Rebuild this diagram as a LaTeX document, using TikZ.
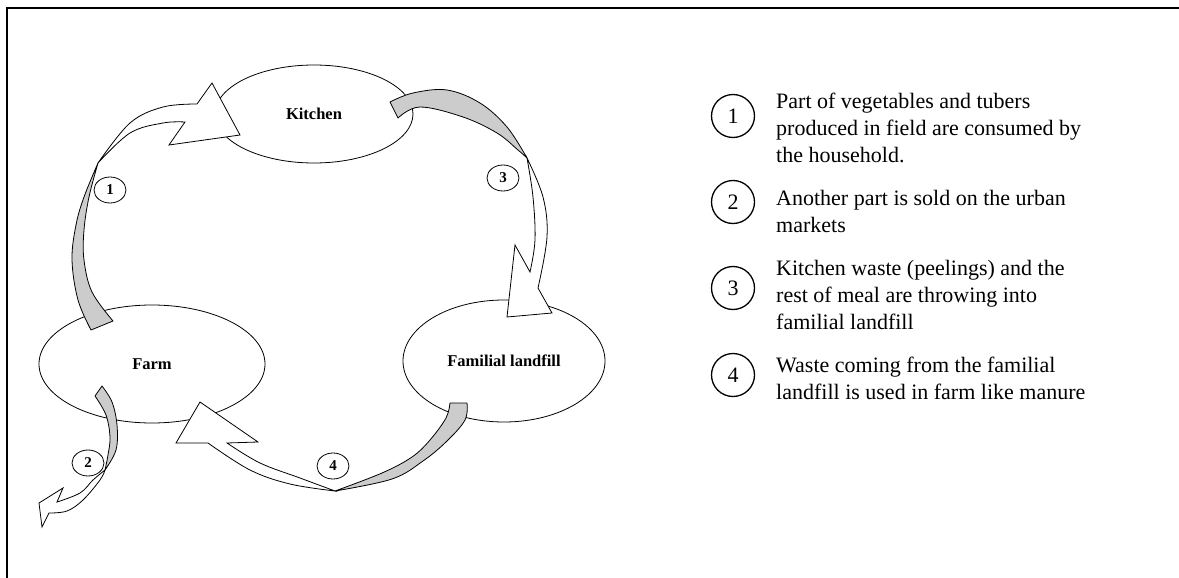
\documentclass[tikz,border=0pt]{standalone}
\usepackage{fontspec}
\setmainfont{Liberation Serif}
\usetikzlibrary{shapes.geometric}
\begin{document}
\begin{tikzpicture}[x=1pt,y=-1pt,
  bigell/.style={draw,ellipse,line width=0.8pt,inner sep=0pt,font=\fontsize{16.5}{18}\selectfont\bfseries},
  numell/.style={draw,ellipse,line width=0.8pt,minimum width=32pt,minimum height=26pt,inner sep=0pt,font=\fontsize{15}{16}\selectfont\bfseries},
  legcirc/.style={draw,circle,line width=1.3pt,minimum size=43pt,inner sep=0pt,font=\fontsize{22}{24}\selectfont},
  legtext/.style={anchor=base west,inner sep=0pt},
  backside/.style={draw,fill=black!20,line width=0.8pt,line join=round},
  frontside/.style={draw,fill=white,line width=0.8pt,line join=miter}]
\useasboundingbox (0,0) rectangle (1179,578);
\draw[line width=2pt] (7,578) -- (7,8) -- (1179,8);

% main ellipses
\node[bigell,minimum width=198pt,minimum height=98pt] (kitchen) at (314,114) {Kitchen};
\node[bigell,minimum width=226pt,minimum height=118pt] (farm) at (152,364) {Farm};
\node[bigell,minimum width=202pt,minimum height=122pt] (landfill) at (504,361) {Familial landfill};

% small numbered ellipses
\node[numell] (n1) at (110,190) {1};
\node[numell] (n2) at (88,463) {2};
\node[numell] (n3) at (503,178) {3};
\node[numell] (n4) at (333,466) {4};

% arrow 1 : farm -> kitchen
\draw[backside] plot[smooth,tension=0.6] coordinates {(91,330) (78,300) (72,260) (76,225) (84,197) (98,163)}
  -- plot[smooth,tension=0.6] coordinates {(98,163) (89,197) (84,230) (84,260) (92,292) (113,321)} -- cycle;
\draw[frontside] plot[smooth,tension=0.6] coordinates {(98,163) (130,123) (163,107) (197,104)}
  -- (212,83) -- (240,135) -- (169,145)
  -- plot[smooth,tension=0.6] coordinates {(185,122) (163,123) (130,133) (98,163)} -- cycle;

% arrow 3 : kitchen -> landfill
\draw[backside] plot[smooth,tension=0.6] coordinates {(390,102) (413,93) (447,90) (480,103) (507,127) (527,158)}
  -- plot[smooth,tension=0.6] coordinates {(527,158) (518,150) (497,133) (463,117) (420,107) (398,118)} -- cycle;
\draw[frontside] plot[smooth,tension=0.6] coordinates {(527,158) (543,197) (547,237) (538,288)}
  -- (552,313) -- (507,317) -- (515,245)
  -- plot[smooth,tension=0.6] coordinates {(530,272) (535,240) (533,197) (527,158)} -- cycle;

% arrow 4 : landfill -> farm
\draw[backside] plot[smooth,tension=0.6] coordinates {(467,403) (465,420) (447,441) (423,461) (392,479) (335,491)}
  -- plot[smooth,tension=0.6] coordinates {(335,491) (382,473) (412,457) (430,440) (446,418) (450,403)} -- cycle;
\draw[frontside] plot[smooth,tension=0.6] coordinates {(335,491) (290,484) (250,470) (208,443)}
  -- (176,443) -- (200,402) -- (258,442)
  -- plot[smooth,tension=0.6] coordinates {(227,443) (260,463) (300,478) (335,491)} -- cycle;

% arrow 2 : farm -> outside
\draw[backside] plot[smooth,tension=0.6] coordinates {(102,386) (112,402) (117,425) (116,450) (105,470)}
  -- plot[smooth,tension=0.6] coordinates {(105,470) (108,455) (110,437) (106,415) (95,396)} -- cycle;
\draw[frontside] plot[smooth,tension=0.6] coordinates {(105,470) (100,480) (83,500) (67,511) (49,513)}
  -- (42,527) -- (39,503) -- (63,488)
  -- plot[smooth,tension=0.6] coordinates {(57,502) (80,493) (93,480) (105,470)} -- cycle;

% legend
\node[legcirc] (c1) at (733,116) {1};
\node[legcirc] (c2) at (733,202) {2};
\node[legcirc] (c3) at (733,288) {3};
\node[legcirc] (c4) at (733,375) {4};
\node[legtext] (t1) at (776,109) {\parbox[t]{400pt}{\fontsize{22}{27}\selectfont Part of vegetables and tubers\\produced in field are consumed by\\the household.}};
\node[legtext] (t2) at (776,205) {\parbox[t]{400pt}{\fontsize{22}{27}\selectfont Another part is sold on the urban\\markets}};
\node[legtext] (t3) at (776,275) {\parbox[t]{400pt}{\fontsize{22}{27}\selectfont Kitchen waste (peelings) and the\\rest of meal are throwing into\\familial landfill}};
\node[legtext] (t4) at (776,372) {\parbox[t]{400pt}{\fontsize{22}{27}\selectfont Waste coming from the familial\\landfill is used in farm like manure}};
\end{tikzpicture}
\end{document}
